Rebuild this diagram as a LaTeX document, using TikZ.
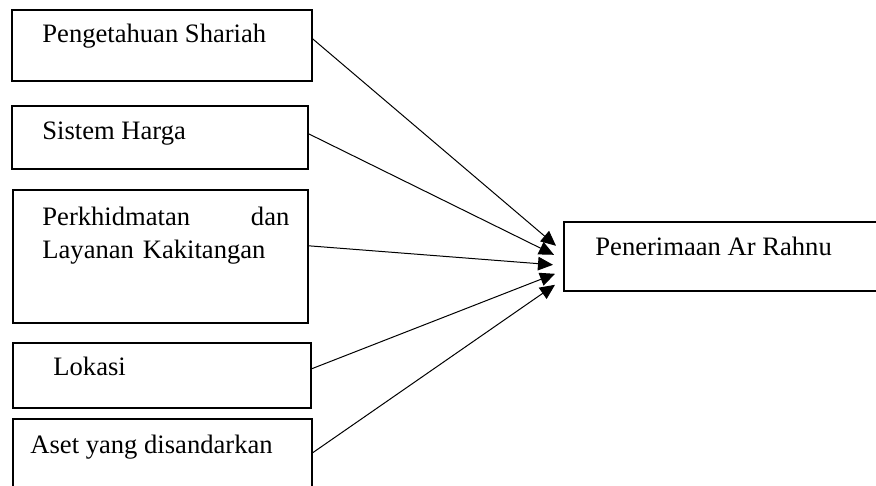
\documentclass[tikz,border=0pt]{standalone}
\usepackage{fontspec}
\setmainfont{Liberation Serif}
\usepackage{tikz}
\usetikzlibrary{calc}
\usetikzlibrary{arrows.meta}

\begin{document}
\begin{tikzpicture}
            [x=0.5pt, y=-0.5pt,
            border/.style={draw, line width=0.8pt, anchor=north west, inner sep=0pt},
            link/.style={line width=0.5pt, -{Triangle[length=7.5pt, width=6.8pt]}},
            label/.style={anchor=base west, inner sep=0pt, font=\fontsize{13.3}{17}\selectfont},
            ]
            \useasboundingbox (0,0) rectangle (876,486);
            \clip (0,0) rectangle (876,486);

            \node[border, minimum width=150pt, minimum height=35.5pt] (shariah) at (11,9) {};
            \node[border, minimum width=148pt, minimum height=31.5pt] (harga) at (11,105) {};
            \node[border, minimum width=147.5pt, minimum height=66.5pt] (layanan) at (12,189) {};
            \node[border, minimum width=149pt, minimum height=32.5pt] (lokasi) at (12,342) {};
            \node[border, minimum width=149.5pt, minimum height=41pt] (aset) at (12,418) {};
            \node[border, minimum width=163.5pt, minimum height=34.5pt] (rahnu) at (563,221) {};

            \node[label] (shariahtext) at (42,43) {Pengetahuan Shariah};
            \node[label] (hargatext) at (42,140) {Sistem Harga};
            \node[label, text width=123.5pt, align=left] (layanantext) at (42,225)
                {Perkhidmatan\hfill dan\\Layanan Kakitangan};
            \node[label] (lokasitext) at (53,375) {Lokasi};
            \node[label] (asettext) at (30,453) {Aset yang disandarkan};
            \node[label] (rahnutext) at (595,255) {Penerimaan Ar Rahnu};

            \draw[link] ($(shariah.east)+(0,-6.5)$) -- ($(rahnu.west)+(-7,-10.5)$);
            \draw[link] ($(harga.east)+(0,-3.5)$) -- ($(rahnu.west)+(-9,-1.5)$);
            \draw[link] ($(layanan.east)+(0,-10.5)$) -- ($(rahnu.west)+(-10,8.5)$);
            \draw[link] ($(lokasi.east)+(0,-6.5)$) -- ($(rahnu.west)+(-8,17.5)$);
            \draw[link] ($(aset.east)+(0,-7)$) -- ($(rahnu.west)+(-8,28.5)$);
        \end{tikzpicture}
\end{document}
